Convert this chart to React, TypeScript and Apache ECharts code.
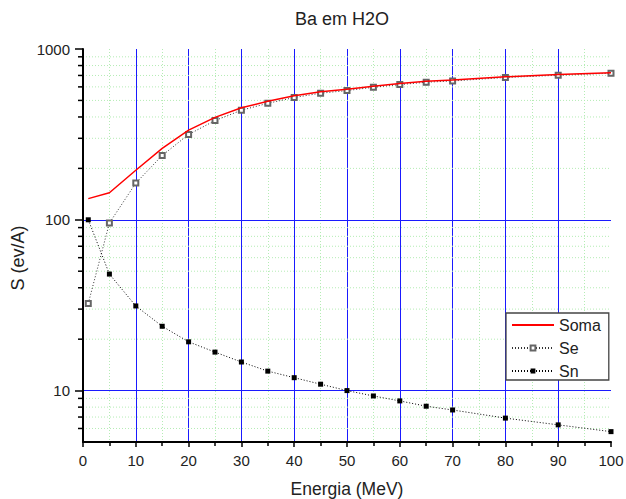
import React, { useEffect, useRef } from "react";
import * as echarts from "echarts";

const energy = [1, 5, 10, 15, 20, 25, 30, 35, 40, 45, 50, 55, 60, 65, 70, 80, 90, 100];
const soma = [133, 144, 195, 262, 335, 398, 453, 494, 532, 562, 581, 606, 628, 647, 658, 688, 708, 727];
const se = [32.4, 95.7, 164, 238, 316, 381, 438, 481, 520, 551, 571, 597, 619, 639, 650, 681, 702, 721];
const sn = [100, 48.1, 31.3, 23.8, 19.3, 16.8, 14.7, 13.0, 11.9, 10.9, 10.0, 9.3, 8.7, 8.1, 7.7, 6.9, 6.3, 5.75];
const yMinorTicks = [6, 7, 8, 9, 20, 30, 40, 50, 60, 70, 80, 90, 200, 300, 400, 500, 600, 700, 800, 900];

const X_MIN = 0;
const X_MAX = 100;
const FONT = "'Liberation Sans', Arial, sans-serif";
const BLUE = "#1a1aff";
const GREEN = "#b4ecb4";

export default function App() {
  const ref = useRef<HTMLDivElement>(null);
  useEffect(() => {
    if (!ref.current) return;
    const chart = echarts.init(ref.current, undefined, { renderer: "svg" });
    const pair = (ys: number[]) => energy.map((x, i) => [x, ys[i]]);
    chart.setOption({
      animation: false,
      backgroundColor: "#ffffff",
      textStyle: { fontFamily: FONT },
      title: {
        text: "Ba em H2O",
        left: 290,
        top: 5,
        textStyle: { fontFamily: FONT, fontSize: 18, fontWeight: "normal", color: "#222" },
      },
      grid: { left: 83, right: 15, top: 49, bottom: 57, containLabel: false, outerBoundsMode: "none" },
      legend: {
        orient: "vertical",
        left: 506,
        top: 313,
        padding: [4, 8, 1, 5],
        itemWidth: 42,
        itemHeight: 6,
        itemGap: 7,
        backgroundColor: "#ffffff",
        borderColor: "#444",
        borderWidth: 1.3,
        borderRadius: 0,
        textStyle: { fontFamily: FONT, fontSize: 16, color: "#222" },
        data: [{ name: "Soma", itemStyle: { opacity: 0 } }, "Se", "Sn"],
      },
      xAxis: {
        type: "value",
        min: X_MIN,
        max: X_MAX,
        interval: 10,
        name: "Energia (MeV)",
        nameLocation: "middle",
        nameGap: 38,
        nameTextStyle: { fontFamily: FONT, fontSize: 17.5, lineHeight: 18, color: "#222" },
        axisLine: { onZero: false, lineStyle: { color: "#000", width: 2 } },
        axisTick: { show: true, length: 5, lineStyle: { color: "#000", width: 1.5 } },
        minorTick: { show: true, splitNumber: 2, length: 4, lineStyle: { color: "#000", width: 1.5 } },
        axisLabel: { fontFamily: FONT, fontSize: 15, color: "#222", margin: 11 },
        splitLine: {
          show: true,
          showMinLine: false,
          showMaxLine: false,
          lineStyle: { color: BLUE, width: 1 },
        },
        minorSplitLine: { show: true, lineStyle: { color: GREEN, width: 1, type: [1, 2] } },
      },
      yAxis: {
        type: "log",
        logBase: 10,
        min: 5,
        max: 1000,
        z: 3,
        axisLine: { onZero: false, lineStyle: { color: "#000", width: 2 } },
        axisTick: { show: true, length: 8, lineStyle: { color: "#000", width: 1.5 } },
        minorTick: { show: false },
        axisLabel: {
          fontFamily: FONT,
          fontSize: 15,
          color: "#222",
          margin: 13,
          showMinLabel: false,
          formatter: (v: number) => String(v),
        },
        splitLine: {
          show: true,
          showMinLine: false,
          showMaxLine: false,
          lineStyle: { color: BLUE, width: 1 },
        },
      },
      graphic: [
        {
          type: "text",
          x: 17.5,
          y: 258,
          rotation: Math.PI / 2,
          style: {
            text: "S (ev/A)",
            fontFamily: FONT,
            fontSize: 18,
            fill: "#222",
            textAlign: "center",
            textVerticalAlign: "middle",
          },
        },
      ],
      series: [
        {
          name: "_minorGrid",
          type: "custom",
          silent: true,
          clip: false,
          z: 1,
          data: yMinorTicks.map((v) => [X_MIN, v]),
          renderItem: (params: any, api: any) => {
            const v = api.value(1);
            const p0 = api.coord([X_MIN, v]);
            const p1 = api.coord([X_MAX, v]);
            return {
              type: "group",
              children: [
                {
                  type: "line",
                  shape: { x1: p0[0], y1: p0[1], x2: p1[0], y2: p1[1] },
                  style: { stroke: GREEN, lineWidth: 1, lineDash: [1, 2] },
                },
                {
                  type: "line",
                  shape: { x1: p0[0] - 5, y1: p0[1], x2: p0[0], y2: p0[1] },
                  style: { stroke: "#000", lineWidth: 1.5 },
                },
              ],
            };
          },
        },
        {
          name: "Soma",
          type: "line",
          data: pair(soma),
          symbol: "none",
          lineStyle: { color: "#ff0000", width: 1.5 },
          itemStyle: { color: "#ff0000" },
          z: 4,
        },
        {
          name: "Se",
          type: "line",
          data: pair(se),
          symbol: "emptyRect",
          symbolSize: 5,
          lineStyle: { color: "#333", width: 1, type: [1, 2] },
          itemStyle: { color: "#666", borderWidth: 1 },
          z: 3,
        },
        {
          name: "Sn",
          type: "line",
          data: pair(sn),
          symbol: "rect",
          symbolSize: 5,
          lineStyle: { color: "#000", width: 1, type: [1, 2] },
          itemStyle: { color: "#000" },
          z: 3,
        },
      ],
    });
    return () => chart.dispose();
  }, []);
  return <div ref={ref} style={{ width: 626, height: 499, position: "absolute", left: 0, top: 0 }} />;
}
